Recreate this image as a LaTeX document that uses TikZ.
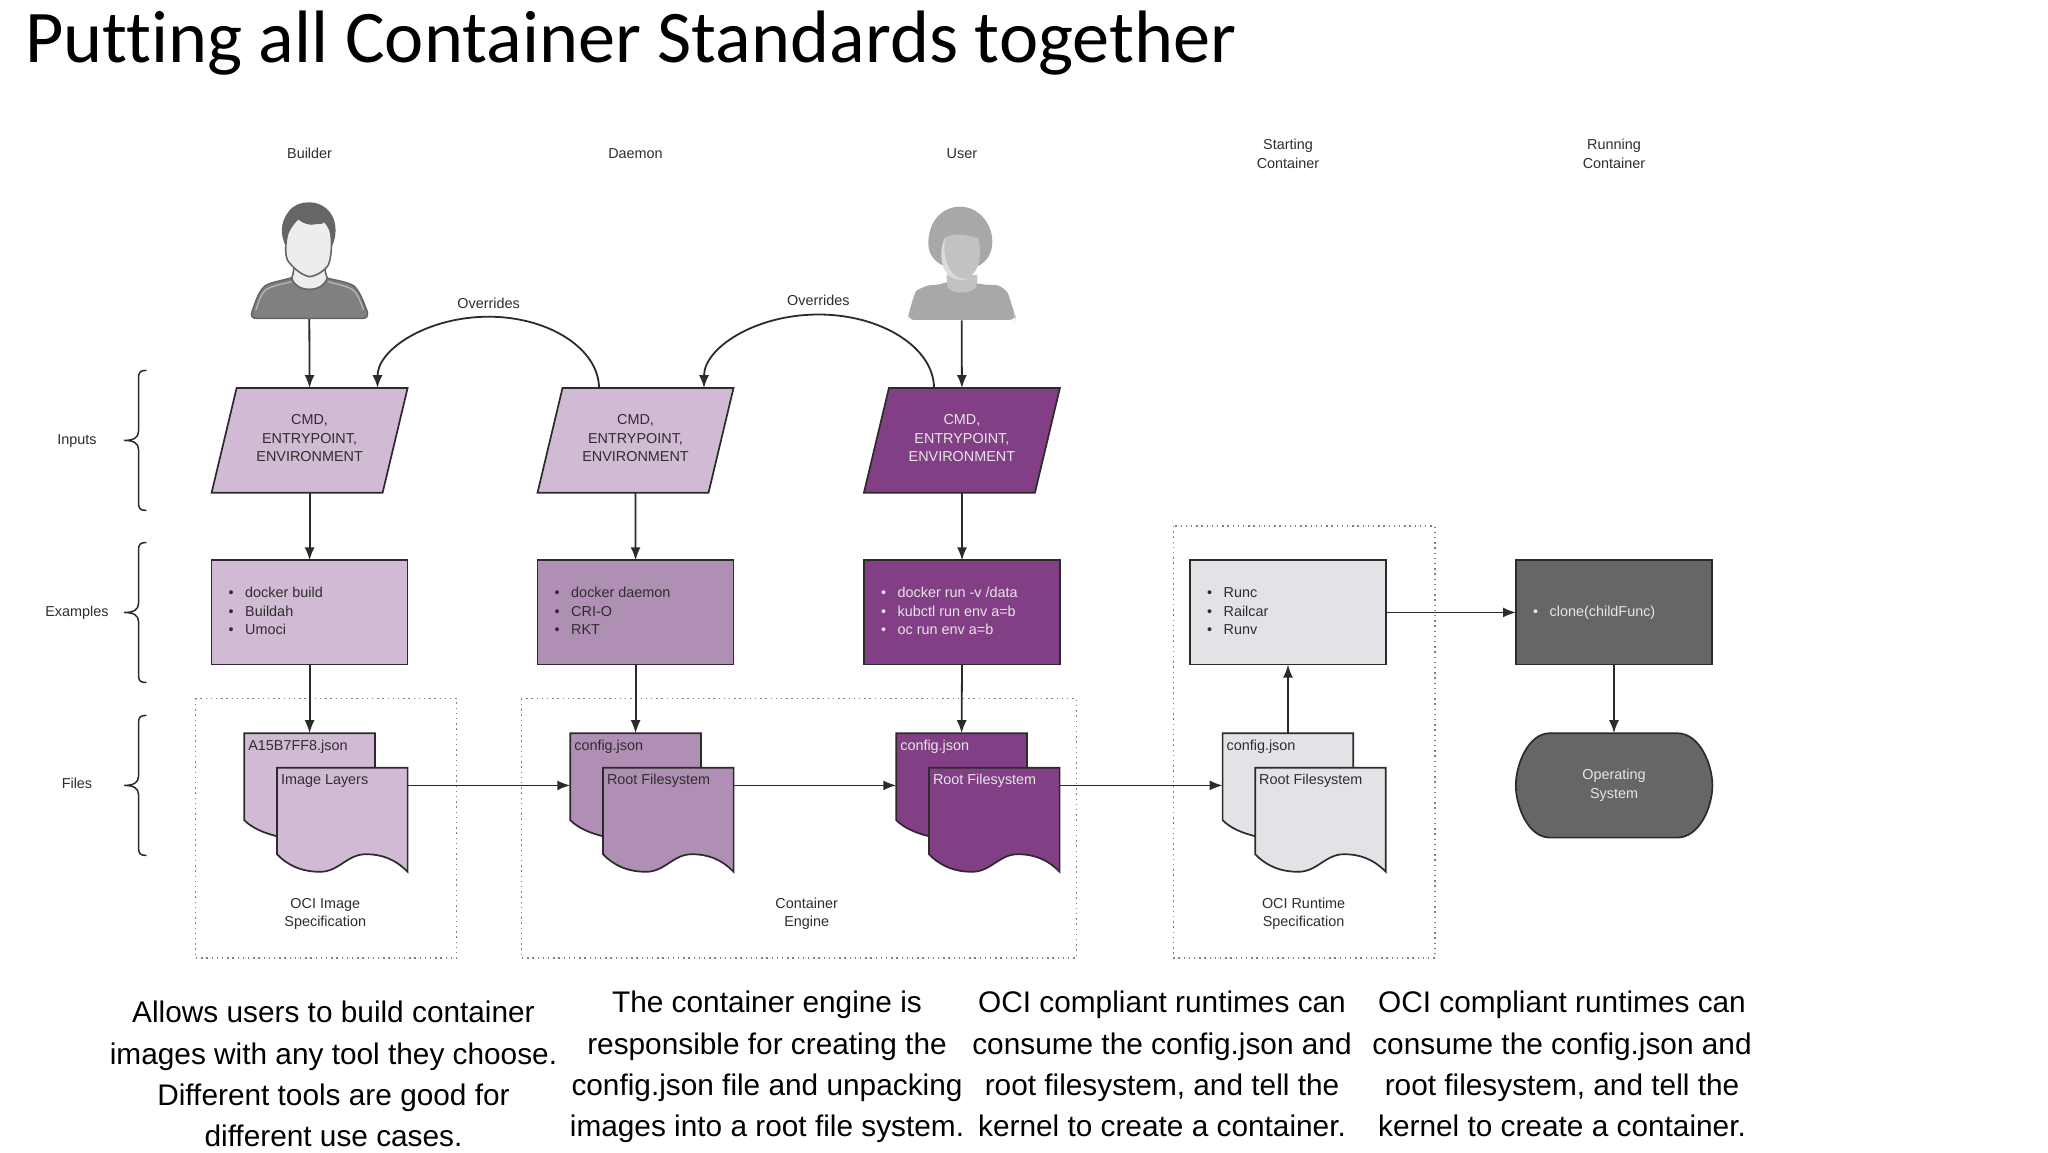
\documentclass[tikz,border=0pt]{standalone}
\usepackage{fontspec}
\setmainfont{Liberation Sans}
\newfontfamily\titlefont[Ligatures=NoCommon]{Carlito}
\usetikzlibrary{arrows.meta}
\definecolor{ink}{HTML}{2B2B2B}
\definecolor{lilac}{HTML}{D1BAD3}
\definecolor{mauve}{HTML}{B08FB4}
\definecolor{plum}{HTML}{823F85}
\definecolor{pale}{HTML}{E3E2E6}
\definecolor{slate}{HTML}{666568}
\definecolor{txt}{HTML}{2E2E2E}
\definecolor{lighttxt}{HTML}{E6E6E6}
\newcommand{\sm}{\fontsize{14.4}{18.4}\selectfont}
\newcommand{\bul}[1]{\begin{tabular}{@{}l@{\hspace{11.6pt}}l@{}}#1\end{tabular}}
\newcommand{\paral}[3]{% name, centre x, fill
  \path (#2,440.4) node[plain,minimum width=196pt,minimum height=104.7pt] (#1) {};
  \draw[fig,fill=#3] ([xshift=25pt]#1.north west) -- (#1.north east) -- ([xshift=-25pt]#1.south east) -- (#1.south west) -- cycle;}
\newcommand{\docback}[3]{% name, left x, fill
  \node[plain,anchor=north west,minimum width=130.6pt,minimum height=103pt] (#1) at (#2,733.2) {};
  \draw[fig,fill=#3] (#1.north west) -- (#1.north east) -- ([yshift=40pt]#1.south east) -- ([shift={(32.7,0)}]#1.south west)
     .. controls ([shift={(20,-3)}]#1.south west) and ([shift={(8,-8)}]#1.south west) .. ([shift={(0,-16)}]#1.south west) -- cycle;}
\newcommand{\docfront}[3]{% name, left x, fill
  \node[plain,anchor=north west,minimum width=130.6pt,minimum height=104pt] (#1) at (#2,767.8) {};
  \draw[fig,fill=#3] (#1.north west) -- (#1.north east) -- (#1.south east)
     .. controls ([shift={(118,-13)}]#1.south west) and ([shift={(104,-17.6)}]#1.south west) .. ([shift={(89,-17.6)}]#1.south west)
     .. controls ([shift={(70,-17.6)}]#1.south west) and ([shift={(62,0)}]#1.south west) .. ([shift={(43,0)}]#1.south west)
     .. controls ([shift={(24,0)}]#1.south west) and ([shift={(10,-7)}]#1.south west) .. ([shift={(0,-17.6)}]#1.south west) -- cycle;}
\tikzset{
  x=1pt,y=-1pt,
  plain/.style={inner sep=0pt,outer sep=0pt},
  fig/.style={draw=ink,line width=1.7pt,line join=miter},
  lab/.style={plain,align=center,font=\sm,text=txt},
  flow/.style={draw=ink,line width=1.8pt,-{Latex[length=13pt,width=10pt]}},
  zone/.style={draw=black!50,line width=1.4pt,dash pattern=on 1.4pt off 3.8pt},
  brace/.style={draw=ink,line width=1.5pt,line cap=round},
  blurb/.style={plain,align=center,font=\fontsize{29.8}{41.3}\selectfont,text=black},
  boxnode/.style={fig,plain,minimum width=196pt,minimum height=104.3pt,anchor=north west,font=\sm},
}
\begin{document}
\begin{tikzpicture}
\useasboundingbox (0,0) rectangle (2048,1152);
\fill[white] (0,0) rectangle (2048,1152);
\node[plain,anchor=west,font=\fontsize{74.3}{74.3}\titlefont,text=black] (title) at (25,43) {Putting all Container Standards together};

% column labels
\node[lab] (hb) at (309.6,153.6) {Builder};
\node[lab] (hd) at (635.5,153.6) {Daemon};
\node[lab] (hu) at (961.9,153.6) {User};
\node[lab] (hs) at (1288,154) {Starting\\Container};
\node[lab] (hr) at (1614,154) {Running\\Container};

% row labels and braces
\node[lab] (li) at (77,441) {Inputs};
\node[lab] (le) at (77,613) {Examples};
\node[lab] (lf) at (77,783) {Files};
\foreach \c/\n in {440.4/a,612.5/b,785.4/c}{
  \coordinate (bt\n) at (124,\c);
  \draw[brace] (146,\c-70) .. controls (140,\c-70) and (138.5,\c-68) .. (138.5,\c-62)
     -- (138.5,\c-9) .. controls (138.5,\c-3) and (134,\c) .. (bt\n)
     .. controls (134,\c) and (138.5,\c+3) .. (138.5,\c+9)
     -- (138.5,\c+62) .. controls (138.5,\c+68) and (140,\c+70) .. (146,\c+70);
}

% dotted zones
\draw[zone] (195.3,698.7) rectangle (456.6,958);
\draw[zone] (521.2,698.7) rectangle (1076.3,958);
\draw[zone] (1173.6,526) rectangle (1434.8,958);

% builder
\node[plain,minimum width=116pt,minimum height=117pt] (builder) at (309.3,260.5) {};
\begin{scope}[shift={(230,190)},x=0.3333pt,y=-0.3333pt]
  \draw[draw=black!60,line width=1.6pt,fill=black!50] (80,385) .. controls (66,385) and (62,378) .. (66,366)
     .. controls (75,340) and (85,305) .. (105,288) .. controls (125,275) and (160,272) .. (190,262)
     -- (290,264) .. controls (320,272) and (350,275) .. (372,288)
     .. controls (390,305) and (402,340) .. (412,366) .. controls (414,378) and (410,385) .. (398,385) -- cycle;
  \draw[black!27,line width=1.2pt] (78,360) .. controls (85,335) and (95,308) .. (110,298) .. controls (130,286) and (160,282) .. (185,275);
  \draw[black!27,line width=1.2pt] (400,360) .. controls (392,335) and (382,308) .. (366,298) .. controls (346,286) and (316,282) .. (295,275);
  \draw[draw=black!60,line width=1.6pt,fill=black!7] (192,232) .. controls (190,250) and (188,258) .. (185,265)
     .. controls (195,290) and (215,298) .. (238,298) .. controls (262,298) and (280,290) .. (292,265)
     .. controls (288,255) and (285,245) .. (285,232) -- cycle;
  \fill[black!60] (168,170) .. controls (150,135) and (150,95) .. (178,62) .. controls (195,42) and (215,37) .. (238,37)
     .. controls (270,37) and (300,55) .. (312,90) .. controls (320,115) and (318,145) .. (305,170) -- cycle;
  \draw[draw=black!60,line width=1.6pt,fill=black!7] (205,85) .. controls (185,105) and (172,125) .. (170,145)
     .. controls (166,170) and (166,195) .. (172,210) .. controls (182,225) and (210,255) .. (238,260)
     .. controls (262,258) and (285,240) .. (295,225) .. controls (305,200) and (308,150) .. (300,120)
     .. controls (295,110) and (290,100) .. (282,92) .. controls (280,102) and (268,98) .. (258,100)
     .. controls (240,105) and (222,100) .. (205,85) -- cycle;
\end{scope}

% user
\node[plain,minimum width=107pt,minimum height=114pt] (user) at (961.7,263.3) {};
\begin{scope}[shift={(900,190)},x=0.3333pt,y=-0.3333pt]
  \fill[black!34,rounded corners=6pt] (25,390) -- (25,375) .. controls (35,340) and (45,305) .. (65,292)
     .. controls (90,285) and (115,285) .. (140,275) -- (235,280) .. controls (260,285) and (290,285) .. (310,292)
     .. controls (325,310) and (335,345) .. (347,380) -- (345,390) -- cycle;
  \fill[black!34] (125,225) .. controls (100,210) and (85,190) .. (85,160) .. controls (85,95) and (125,50) .. (180,50)
     .. controls (235,50) and (277,100) .. (277,155) .. controls (277,190) and (260,215) .. (235,228) -- cycle;
  \fill[black!24] (140,255) .. controls (140,270) and (140,285) .. (145,295) .. controls (165,312) and (205,312) .. (225,295)
     .. controls (232,285) and (232,270) .. (232,255) -- cycle;
  \fill[black!14] (137,140) .. controls (118,170) and (120,225) .. (140,250) .. controls (155,268) and (185,272) .. (200,268)
     -- (170,200) -- cycle;
  \fill[black!24] (137,142) .. controls (160,130) and (190,130) .. (235,145) .. controls (245,180) and (240,215) .. (228,240)
     .. controls (215,258) and (205,266) .. (190,266) .. controls (165,262) and (150,245) .. (142,220)
     .. controls (132,195) and (130,165) .. (137,142) -- cycle;
\end{scope}

% inputs
\paral{p1}{309.6}{lilac}
\paral{p2}{635.5}{lilac}
\paral{p3}{961.9}{plum}
\node[lab] at ([yshift=2pt]p1.center) {CMD,\\ENTRYPOINT,\\ENVIRONMENT};
\node[lab] at ([yshift=2pt]p2.center) {CMD,\\ENTRYPOINT,\\ENVIRONMENT};
\node[lab,text=lighttxt] at ([yshift=2pt]p3.center) {CMD,\\ENTRYPOINT,\\ENVIRONMENT};

% example boxes
\node[boxnode,fill=lilac] (e1) at (211.6,560.3) {};
\node[boxnode,fill=mauve] (e2) at (537.6,560.3) {};
\node[boxnode,fill=plum] (e3) at (864,560.3) {};
\node[boxnode,fill=pale] (e4) at (1190,560.3) {};
\node[boxnode,fill=slate] (e5) at (1516,560.3) {};
\node[lab,anchor=west,text=txt] at ([xshift=17pt]e1.west) {\bul{•&docker build\\•&Buildah\\•&Umoci}};
\node[lab,anchor=west,text=txt] at ([xshift=17pt]e2.west) {\bul{•&docker daemon\\•&CRI-O\\•&RKT}};
\node[lab,anchor=west,text=lighttxt] at ([xshift=17pt]e3.west) {\bul{•&docker run -v /data\\•&kubctl run env a=b\\•&oc run env a=b}};
\node[lab,anchor=west,text=txt] at ([xshift=17pt]e4.west) {\bul{•&Runc\\•&Railcar\\•&Runv}};
\node[lab,anchor=west,text=lighttxt] at ([xshift=17pt]e5.west) {\bul{•&clone(childFunc)}};

% documents
\docback{b1}{244.3}{lilac}
\docback{b2}{570.3}{mauve}
\docback{b3}{896.3}{plum}
\docback{b4}{1222.6}{pale}
\docfront{f1}{277}{lilac}
\docfront{f2}{603}{mauve}
\docfront{f3}{929}{plum}
\docfront{f4}{1255.2}{pale}
\node[lab,anchor=west] at ([xshift=4pt,yshift=-13.5pt]b1.north west) {A15B7FF8.json};
\node[lab,anchor=west] at ([xshift=4pt,yshift=-13.5pt]b2.north west) {config.json};
\node[lab,anchor=west,text=lighttxt] at ([xshift=4pt,yshift=-13.5pt]b3.north west) {config.json};
\node[lab,anchor=west] at ([xshift=4pt,yshift=-13.5pt]b4.north west) {config.json};
\node[lab,anchor=west] at ([xshift=4pt,yshift=-13.4pt]f1.north west) {Image Layers};
\node[lab,anchor=west] at ([xshift=4pt,yshift=-13.4pt]f2.north west) {Root Filesystem};
\node[lab,anchor=west,text=lighttxt] at ([xshift=4pt,yshift=-13.4pt]f3.north west) {Root Filesystem};
\node[lab,anchor=west] at ([xshift=4pt,yshift=-13.4pt]f4.north west) {Root Filesystem};

% OS
\node[plain,minimum width=196.6pt,minimum height=104.4pt] (os) at (1614,785.4) {};
\draw[fig,fill=slate] (1550,733.2) -- (1677,733.2) .. controls (1700,733.2) and (1712.4,765) .. (1712.4,785.4)
  .. controls (1712.4,806) and (1700,837.6) .. (1677,837.6) -- (1550,837.6)
  .. controls (1528,837.6) and (1515.8,806) .. (1515.8,785.4) .. controls (1515.8,765) and (1528,733.2) .. (1550,733.2) -- cycle;
\node[lab,text=lighttxt] at (os) {Operating\\System};

% zone captions
\node[lab] (c1) at (325.3,913.7) {OCI Image\\Specification};
\node[lab] (c2) at (806.7,913.7) {Container\\Engine};
\node[lab] (c3) at (1303.6,913.7) {OCI Runtime\\Specification};

% connectors
\draw[flow] (builder.south) -- (p1.north);
\draw[flow] (user.south) -- (p3.north);
\draw[flow] (p1.south) -- (e1.north);
\draw[flow] (p2.south) -- (e2.north);
\draw[flow] (p3.south) -- (e3.north);
\draw[flow] (e1.south) -- (b1.north);
\draw[flow] (e2.south) -- (b2.north);
\draw[flow] (e3.south) -- (b3.north);
\draw[flow] (b4.north) -- (e4.south);
\draw[flow] (e4.east) -- (e5.west);
\draw[flow] (e5.south) -- (os.north);
\draw[flow] (f1.east |- os.center) -- (b2.west |- os.center);
\draw[flow] (f2.east |- os.center) -- (b3.west |- os.center);
\draw[flow] (f3.east |- os.center) -- (b4.west |- os.center);
\coordinate (a1s) at ([xshift=-36.5pt]p2.north);
\coordinate (a1e) at ([xshift=67.9pt]p1.north);
\coordinate (a2s) at ([xshift=-27.9pt]p3.north);
\coordinate (a2e) at ([xshift=68.5pt]p2.north);
\draw[flow] (a1s) .. controls ([yshift=39pt]a1s) and (549,316.7) .. (488.6,316.7) .. controls (428,316.7) and ([yshift=39pt]a1e) .. (a1e);
\draw[flow] (a2s) .. controls ([yshift=40pt]a2s) and (882,314.5) .. (818.4,314.5) .. controls (755,314.5) and ([yshift=40pt]a2e) .. (a2e);
\node[lab] (o1) at (488.6,303.6) {Overrides};
\node[lab] (o2) at (818.4,300.6) {Overrides};

% blurbs
\node[blurb] (t1) at (333.5,1074) {Allows users to build container\\images with any tool they choose.\\Different tools are good for\\different use cases.};
\node[blurb] (t2) at (767,1067) {The container engine is\\responsible for creating the\\config.json file and unpacking\\images into a root file system.};
\node[blurb] (t3) at (1162,1064) {OCI compliant runtimes can\\consume the config.json and\\root filesystem, and tell the\\kernel to create a container.};
\node[blurb] (t4) at (1562,1064) {OCI compliant runtimes can\\consume the config.json and\\root filesystem, and tell the\\kernel to create a container.};
\end{tikzpicture}
\end{document}
